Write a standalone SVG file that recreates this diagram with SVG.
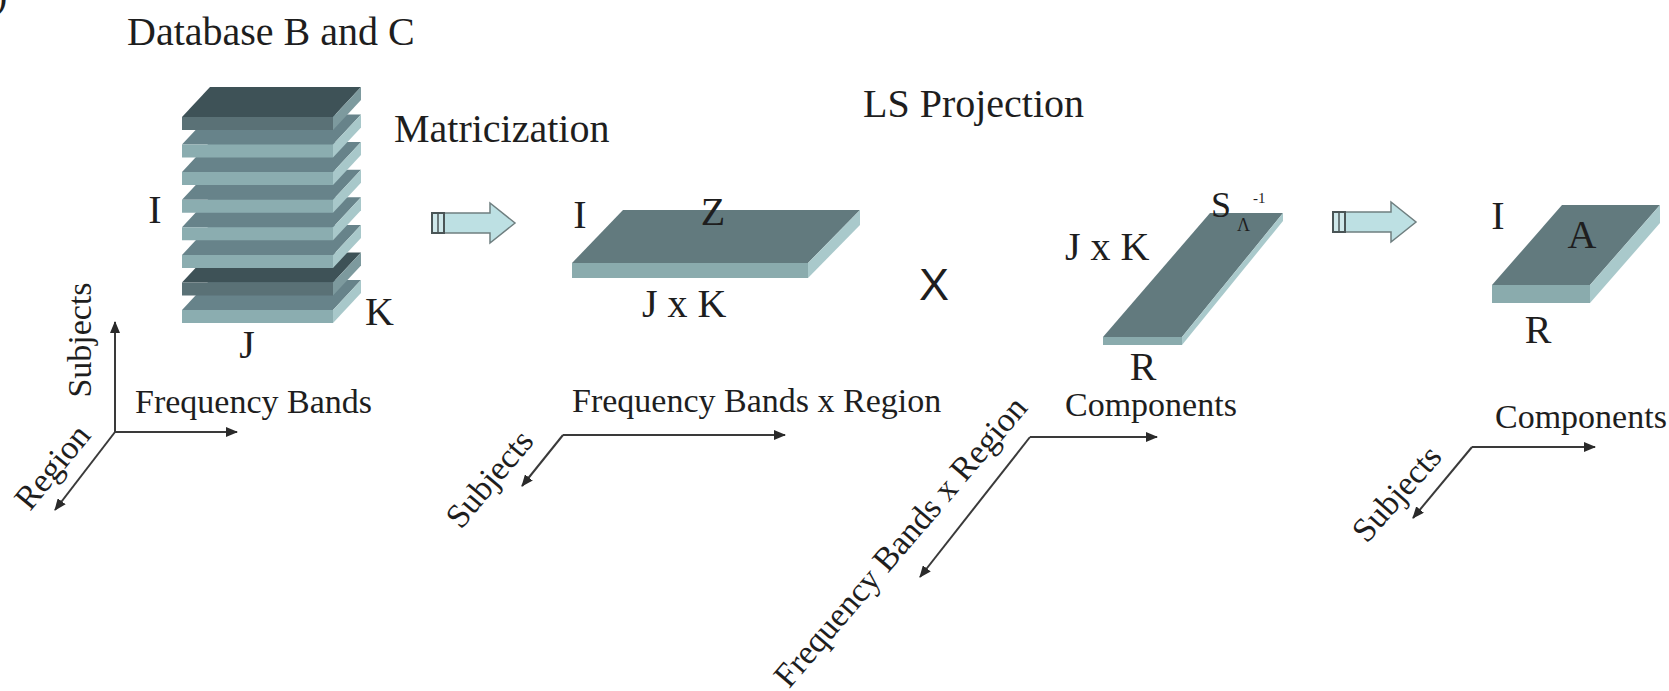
<svg xmlns="http://www.w3.org/2000/svg" width="1669" height="691" viewBox="0 0 1669 691">
<defs>
<style>
text{font-family:"Liberation Serif","Times New Roman",serif;fill:#1e1e1e}
.t40{font-size:40px}
.t34{font-size:34px}
.ax{stroke:#3a3a3a;stroke-width:2;fill:none}
.ltop{fill:#67838a}
.lfront{fill:#8badb0}
.lside{fill:#a8c8ca}
.dtop{fill:#3e5257}
.dfront{fill:#5a7176}
.dside{fill:#7d9a9e}
.mtop{fill:#627a7e}
.mfront{fill:#8aabad}
.mside{fill:#a9c9cb}
.barrow{fill:#bde0e3;stroke:#6f7f80;stroke-width:1.5}
</style>
<marker id="ah" viewBox="0 0 12 10" refX="11" refY="5" markerWidth="12" markerHeight="10" markerUnits="userSpaceOnUse" orient="auto">
<path d="M0,0 L12,5 L0,10 Z" fill="#2a2a2a"/>
</marker>
<g id="blockArrow">
<path class="barrow" d="M432,213 H490 V203 L515,223 L490,243 V233 H432 Z"/>
<rect x="432" y="213" width="12" height="20" fill="#cfe8ea" stroke="#4a5556" stroke-width="2"/>
<line x1="438" y1="213" x2="438" y2="233" stroke="#4a5556" stroke-width="1.5"/>
</g>
</defs>
<rect width="1669" height="691" fill="#ffffff"/>

<text class="t40" x="-6" y="8">)</text>

<g id="tensor-stack">
<g transform="translate(0,310)"><polygon class="ltop" points="182,0 210,-30 361,-30 333,0"/><polygon class="lfront" points="182,0 333,0 333,13 182,13"/><polygon class="lside" points="333,0 361,-30 361,-17 333,13"/></g>
<g transform="translate(0,282.4)"><polygon class="dtop" points="182,0 210,-30 361,-30 333,0"/><polygon class="dfront" points="182,0 333,0 333,13 182,13"/><polygon class="dside" points="333,0 361,-30 361,-17 333,13"/></g>
<g transform="translate(0,254.9)"><polygon class="ltop" points="182,0 210,-30 361,-30 333,0"/><polygon class="lfront" points="182,0 333,0 333,13 182,13"/><polygon class="lside" points="333,0 361,-30 361,-17 333,13"/></g>
<g transform="translate(0,227.3)"><polygon class="ltop" points="182,0 210,-30 361,-30 333,0"/><polygon class="lfront" points="182,0 333,0 333,13 182,13"/><polygon class="lside" points="333,0 361,-30 361,-17 333,13"/></g>
<g transform="translate(0,199.7)"><polygon class="ltop" points="182,0 210,-30 361,-30 333,0"/><polygon class="lfront" points="182,0 333,0 333,13 182,13"/><polygon class="lside" points="333,0 361,-30 361,-17 333,13"/></g>
<g transform="translate(0,172.1)"><polygon class="ltop" points="182,0 210,-30 361,-30 333,0"/><polygon class="lfront" points="182,0 333,0 333,13 182,13"/><polygon class="lside" points="333,0 361,-30 361,-17 333,13"/></g>
<g transform="translate(0,144.6)"><polygon class="ltop" points="182,0 210,-30 361,-30 333,0"/><polygon class="lfront" points="182,0 333,0 333,13 182,13"/><polygon class="lside" points="333,0 361,-30 361,-17 333,13"/></g>
<g transform="translate(0,117)"><polygon class="dtop" points="182,0 210,-30 361,-30 333,0"/><polygon class="dfront" points="182,0 333,0 333,13 182,13"/><polygon class="dside" points="333,0 361,-30 361,-17 333,13"/></g>
<text class="t40" x="127" y="45">Database B and C</text>
<text class="t40" x="155" y="223" text-anchor="middle">I</text>
<text class="t40" x="365" y="325">K</text>
<text class="t40" x="247" y="358" text-anchor="middle">J</text>
</g>

<g id="matrix-Z">
<polygon class="mtop" points="572,263 623,210 860,210 808,263"/>
<polygon class="mfront" points="572,263 808,263 808,278 572,278"/>
<polygon class="mside" points="808,263 860,210 860,225 808,278"/>
<text class="t40" x="580" y="228" text-anchor="middle">I</text>
<text class="t40" x="713" y="225" text-anchor="middle">Z</text>
<text class="t40" x="642" y="317">J x K</text>
<text class="t40" x="394" y="142">Matricization</text>
</g>

<g id="times">
<text x="934" y="300" text-anchor="middle" style="font-family:'Liberation Sans',Arial,sans-serif;font-size:45px">X</text>
</g>

<g id="matrix-S">
<polygon class="mtop" points="1103,337 1210,213 1283,213 1182,337"/>
<polygon class="mfront" points="1103,337 1182,337 1182,345 1103,345"/>
<polygon class="mside" points="1182,337 1283,213 1283,221 1182,345"/>
<text class="t40" x="863" y="117">LS Projection</text>
<text class="t40" x="1065" y="260">J x K</text>
<text x="1211" y="217" style="font-size:36px">S</text>
<text x="1237" y="231" style="font-size:18px">Λ</text>
<text x="1253" y="203" style="font-size:15px">-1</text>
<text class="t40" x="1143" y="380" text-anchor="middle">R</text>
</g>

<g id="matrix-A">
<polygon class="mtop" points="1492,285 1562,205 1660,205 1590,285"/>
<polygon class="mfront" points="1492,285 1590,285 1590,303 1492,303"/>
<polygon class="mside" points="1590,285 1660,205 1660,223 1590,303"/>
<text class="t40" x="1498" y="229" text-anchor="middle">I</text>
<text class="t40" x="1582" y="248" text-anchor="middle">A</text>
<text class="t40" x="1538" y="343" text-anchor="middle">R</text>
</g>

<g id="connectors">
<use href="#blockArrow"/>
<use href="#blockArrow" transform="translate(901,-1)"/>
<line class="ax" x1="115" y1="432" x2="115" y2="322" marker-end="url(#ah)"/>
<line class="ax" x1="115" y1="432" x2="237" y2="432" marker-end="url(#ah)"/>
<line class="ax" x1="115" y1="432" x2="55" y2="510" marker-end="url(#ah)"/>
<line class="ax" x1="563" y1="435" x2="785" y2="435" marker-end="url(#ah)"/>
<line class="ax" x1="563" y1="435" x2="522" y2="486" marker-end="url(#ah)"/>
<line class="ax" x1="1030" y1="437" x2="1157" y2="437" marker-end="url(#ah)"/>
<line class="ax" x1="1030" y1="437" x2="920" y2="577" marker-end="url(#ah)"/>
<line class="ax" x1="1472" y1="447" x2="1595" y2="447" marker-end="url(#ah)"/>
<line class="ax" x1="1472" y1="447" x2="1413" y2="518" marker-end="url(#ah)"/>
</g>

<g id="axis-labels">
<text class="t34" text-anchor="middle" transform="translate(91,340) rotate(-90)">Subjects</text>
<text class="t34" x="135" y="413">Frequency Bands</text>
<text class="t34" text-anchor="middle" transform="translate(61,474) rotate(-50.7)">Region</text>
<text class="t34" x="572" y="412">Frequency Bands x Region</text>
<text class="t34" text-anchor="middle" transform="translate(498,486) rotate(-50)">Subjects</text>
<text class="t34" x="1065" y="416">Components</text>
<text class="t34" text-anchor="middle" transform="translate(909,549) rotate(-49.5)">Frequency Bands x Region</text>
<text class="t34" x="1495" y="428">Components</text>
<text class="t34" text-anchor="middle" transform="translate(1405,501) rotate(-48.5)">Subjects</text>
</g>
</svg>
